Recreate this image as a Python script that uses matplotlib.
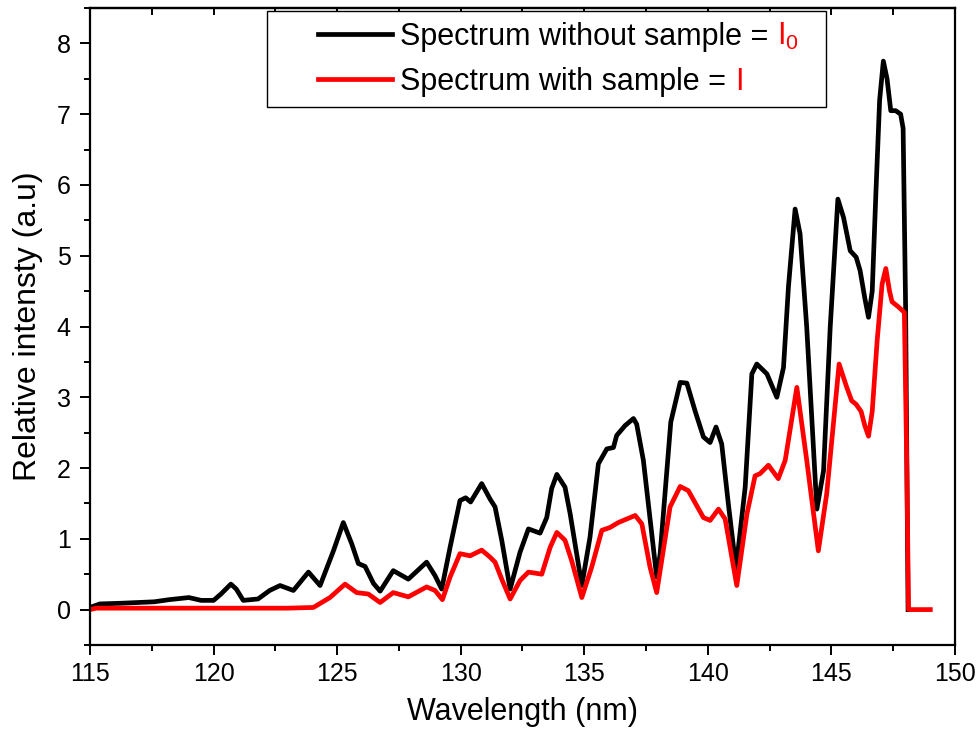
import matplotlib
matplotlib.use("Agg")
import matplotlib.pyplot as plt
from matplotlib.legend_handler import HandlerLine2D
from matplotlib.offsetbox import TextArea, DrawingArea
from matplotlib.ticker import MultipleLocator

plt.rcParams['font.family'] = ['Liberation Sans', 'DejaVu Sans']
plt.rcParams['mathtext.default'] = 'regular'

# spectrum without sample (I0)
wl_i0 = [115.0, 115.4, 116.3, 117.6, 118.2, 119.0, 119.5, 120.0, 120.3, 120.7,
         120.92, 121.2, 121.8, 122.27, 122.69, 123.23, 123.84, 124.31, 124.85, 125.25,
         125.59, 125.86, 126.13, 126.47, 126.74, 127.27, 127.88, 128.62, 128.96, 129.23,
         129.57, 129.97, 130.2, 130.4, 130.85, 131.19, 131.39, 131.66, 132.0, 132.4,
         132.74, 133.21, 133.48, 133.68, 133.89, 134.22, 134.43, 134.9, 135.23, 135.57,
         135.91, 136.18, 136.31, 136.65, 136.99, 137.12, 137.39, 137.93, 138.07, 138.5,
         138.88, 139.15, 139.48, 139.82, 140.09, 140.33, 140.56, 140.83, 141.14, 141.51,
         141.78, 141.98, 142.39, 142.79, 143.06, 143.26, 143.53, 143.73, 144.0, 144.41,
         144.68, 144.95, 145.26, 145.49, 145.76, 146.0, 146.16, 146.35, 146.5, 146.65,
         146.8, 146.95, 147.1, 147.25, 147.4, 147.6, 147.8, 147.9, 148.0, 148.1]
int_i0 = [0.03, 0.08, 0.09, 0.11, 0.14, 0.17, 0.13, 0.13, 0.22, 0.36,
          0.29, 0.13, 0.15, 0.27, 0.34, 0.27, 0.53, 0.34, 0.83, 1.23,
          0.93, 0.65, 0.61, 0.37, 0.26, 0.55, 0.43, 0.67, 0.48, 0.29,
          0.88, 1.54, 1.58, 1.52, 1.78, 1.56, 1.45, 0.98, 0.29, 0.81,
          1.14, 1.08, 1.30, 1.71, 1.91, 1.73, 1.35, 0.34, 1.02, 2.06,
          2.27, 2.29, 2.46, 2.60, 2.70, 2.62, 2.11, 0.46, 0.79, 2.65,
          3.21, 3.20, 2.81, 2.44, 2.36, 2.58, 2.34, 1.49, 0.58, 1.73,
          3.33, 3.47, 3.33, 3.00, 3.42, 4.56, 5.66, 5.31, 3.99, 1.42,
          1.96, 3.99, 5.80, 5.54, 5.07, 4.98, 4.79, 4.40, 4.13, 4.50,
          5.90, 7.20, 7.75, 7.50, 7.05, 7.05, 7.00, 6.80, 4.30, 0.0]

# spectrum with sample (I)
wl_i = [115.0, 115.25, 123.0, 124.04, 124.71, 125.32, 125.79, 126.26, 126.74, 127.27,
        127.88, 128.62, 128.96, 129.26, 129.57, 129.97, 130.38, 130.85, 131.19, 131.39,
        131.66, 132.0, 132.4, 132.74, 133.28, 133.62, 133.89, 134.22, 134.49, 134.9,
        135.3, 135.71, 136.04, 136.38, 136.72, 137.06, 137.33, 137.66, 137.93, 138.47,
        138.88, 139.21, 139.82, 140.09, 140.43, 140.7, 141.17, 141.58, 141.91, 142.11,
        142.45, 142.85, 143.13, 143.6, 144.0, 144.47, 144.81, 145.31, 145.62, 145.82,
        146.0, 146.2, 146.35, 146.5, 146.65, 146.85, 147.05, 147.2, 147.35, 147.45,
        147.7, 147.95, 148.05, 148.12, 149.0]
int_i = [0.0, 0.02, 0.02, 0.03, 0.17, 0.36, 0.24, 0.22, 0.10, 0.24,
         0.18, 0.32, 0.27, 0.14, 0.46, 0.79, 0.76, 0.84, 0.74, 0.67,
         0.43, 0.15, 0.41, 0.53, 0.50, 0.88, 1.09, 0.98, 0.69, 0.17,
         0.60, 1.12, 1.16, 1.23, 1.28, 1.33, 1.21, 0.60, 0.24, 1.45,
         1.74, 1.68, 1.30, 1.26, 1.42, 1.28, 0.34, 1.35, 1.89, 1.92,
         2.04, 1.85, 2.11, 3.14, 2.11, 0.83, 1.64, 3.47, 3.14, 2.95,
         2.90, 2.80, 2.60, 2.45, 2.80, 3.80, 4.60, 4.82, 4.50, 4.35,
         4.28, 4.20, 2.0, 0.0, 0.0]

labels = ["Spectrum without sample =", "Spectrum with sample ="]
red_parts = [r"$I_0$", "I"]

fig = plt.figure(figsize=(9.77, 7.32), dpi=100)
ax = fig.add_axes([0.0921, 0.1189, 0.8854, 0.8701])

ax.plot(wl_i0, int_i0, color="black", lw=3.4, solid_joinstyle="round", label=labels[0])
ax.plot(wl_i, int_i, color="#ff0000", lw=3.4, solid_joinstyle="round", label=labels[1])

ax.set_xlim(115, 150)
ax.set_ylim(-0.5, 8.5)
ax.xaxis.set_major_locator(MultipleLocator(5))
ax.xaxis.set_minor_locator(MultipleLocator(2.5))
ax.yaxis.set_major_locator(MultipleLocator(1))
ax.yaxis.set_minor_locator(MultipleLocator(0.5))

for s in ax.spines.values():
    s.set_linewidth(1.6)
ax.tick_params(which="both", direction="out", width=1.4, labelsize=18,
               top=False, right=False)
ax.tick_params(which="major", length=7)
ax.tick_params(which="minor", length=4.5)
ax.tick_params(axis="x", pad=5)
ax.tick_params(axis="y", pad=7)

# inward ticks on the top spine
top = ax.secondary_xaxis("top")
top.xaxis.set_major_locator(MultipleLocator(5))
top.xaxis.set_minor_locator(MultipleLocator(2.5))
top.tick_params(which="both", direction="in", width=1.4, labeltop=False)
top.tick_params(which="major", length=5)
top.tick_params(which="minor", length=5)
top.spines["top"].set_linewidth(1.6)

ax.set_xlabel("Wavelength (nm)", fontsize=22, labelpad=8)
ax.set_ylabel("Relative intensty (a.u)", fontsize=23, labelpad=10)

leg = ax.legend(loc="upper left", bbox_to_anchor=(0.2046, 0.996), fontsize=22,
                frameon=True, fancybox=False, edgecolor="black", framealpha=1,
                borderpad=0.33, labelspacing=0.5, handlelength=3.75,
                handletextpad=0.28, borderaxespad=0,
                handler_map={plt.Line2D: HandlerLine2D(xpad=1.35)})
leg.get_frame().set_linewidth(1.0)
for line in leg.get_lines():
    line.set_linewidth(3.4)

# red "I0" / "I" after the black legend text
rows = leg._legend_handle_box.get_children()[0].get_children()
for row, part in zip(rows, red_parts):
    ta = TextArea(part, textprops=dict(color="#ff0000", fontsize=22))
    row.get_children().append(ta)
rows[0].get_children().append(DrawingArea(6, 1))
leg._legend_box.set_figure(fig)

fig.savefig("out.png", dpi=100)
